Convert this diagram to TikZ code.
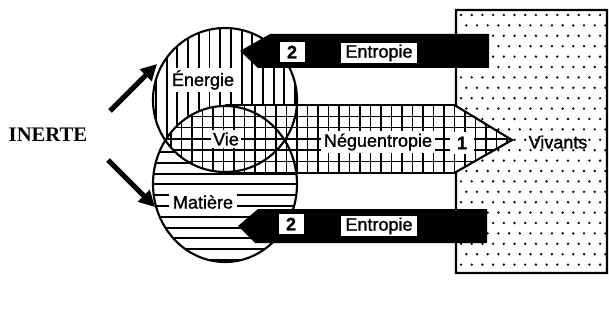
\documentclass[tikz,border=0pt]{standalone}
\usepackage{fontspec}
\setmainfont{Liberation Sans}
\newfontfamily\lab{Liberation Sans}[FakeBold=1.2]
\newfontfamily\titrefont{Liberation Serif}
\usetikzlibrary{arrows.meta}

\begin{document}
\begin{tikzpicture}[x=0.75pt,y=0.75pt,yscale=-1,xscale=1,
  hatch/.style={line width=1.4pt},
  grille/.style={line width=1.1pt},
  contour/.style={line width=1.6pt},
  lbl/.style={fill=white,inner sep=2pt,font=\lab\fontsize{13.5}{16}\selectfont},
  boite/.style={fill=white,inner xsep=3pt,inner ysep=0pt,minimum height=15pt,font=\lab\fontsize{13.5}{16}\selectfont},
  fleche/.style={line width=3.8pt,-{Triangle[length=12pt,width=12pt]}}]
\useasboundingbox (0,0) rectangle (609,324);

%Shape: Rectangle [Vivants]
\fill[white] (456,106) -- (456,10) -- (607,10) -- (607,273) -- (456,273) -- (456,172) -- (512,140) -- cycle;
\begin{scope}
\clip (456,106) -- (456,10) -- (607,10) -- (607,273) -- (456,273) -- (456,172) -- (512,140) -- cycle;
\foreach \j [evaluate=\j as \yy using 15+\j*10.4, evaluate=\j as \dd using {mod(\j,2)*5.3}] in {0,...,25}
  \foreach \i in {0,...,14}
    \fill (461+\dd+\i*10.7,\yy) circle [radius=1.3];
\end{scope}

%Shape: Circle [Energie]
\fill[white] (225,100) circle [radius=72];
\begin{scope}
\clip (225,100) circle [radius=72];
\foreach \k in {0,...,14} \draw[hatch] (156+\k*10.7,20) -- (156+\k*10.7,180);
\end{scope}

%Shape: Ellipse [Matiere]
\fill[white] (225,184) ellipse [x radius=72,y radius=78];
\begin{scope}
\clip (225,184) ellipse [x radius=72,y radius=78];
\foreach \k in {0,...,15} \draw[hatch] (145,152+\k*10.8) -- (305,152+\k*10.8);
\end{scope}

%Shape: Lens [Vie]
\begin{scope}
\clip (225,100) circle [radius=72];
\clip (225,184) ellipse [x radius=72,y radius=78];
\fill[white] (140,90) rectangle (310,190);
\foreach \k in {0,...,15} \draw[grille] (150+\k*10.5,95) -- (150+\k*10.5,185);
\foreach \k in {0,...,7} \draw[grille] (145,105+\k*11.3) -- (310,105+\k*11.3);
\end{scope}

%Shape: Arrow [Neguentropie]
\begin{scope}
\clip (225,105) -- (456,105) -- (512,140) -- (456,173) -- (225,173) -- cycle;
\fill[white] (220,100) rectangle (520,180);
\foreach \k in {0,...,35} \draw[grille] (150+\k*10.5,95) -- (150+\k*10.5,185);
\foreach \k in {0,...,6} \draw[grille] (220,105+\k*11.3) -- (520,105+\k*11.3);
\end{scope}

%Outlines
\draw[contour] (225,100) circle [radius=72];
\draw[contour] (225,184) ellipse [x radius=72,y radius=78];
\draw[contour] (225,105) -- (456,105);
\draw[contour] (225,173) -- (456,173);
\draw[contour] (456,106) -- (456,10) -- (607,10) -- (607,273) -- (456,273) -- (456,172) -- (512,140) -- cycle;

%Shape: Arrows [Entropie]
\fill (489,34) -- (270,34) -- (240,51) -- (258,68) -- (489,68) -- cycle;
\fill (487,209) -- (258,209) -- (238,226) -- (255,243) -- (487,243) -- cycle;

% Text Node
\draw (203,80) node (ener) [lbl] {Énergie};
\draw (226,139) node (vie) [lbl,inner sep=1.5pt] {Vie};
\draw (203,202) node (mat) [lbl,inner xsep=3pt] {Matière};
\draw (378,142) node (negu) [lbl,inner xsep=2.5pt] {Néguentropie};
\draw (462,143) node (un) [boite,minimum width=18pt,minimum height=16pt] {\bfseries 1};
\draw (558,142) node (viv) [font=\lab\fontsize{13.5}{16}\selectfont] {Vivants};
\draw (292,52) node (deux1) [boite,minimum width=18.75pt] {\bfseries 2};
\draw (379,53) node (ent1) [boite] {Entropie};
\draw (291,224) node (deux2) [boite,minimum width=18.75pt] {\bfseries 2};
\draw (379,226) node (ent2) [boite] {Entropie};
\draw (48,135) node (inerte) [font=\titrefont\bfseries\fontsize{15.5}{18}\selectfont] {INERTE};

%Straight Lines [INERTE]
\coordinate (dE) at (110,111);
\coordinate (fE) at (157,64);
\coordinate (dM) at (108,160);
\coordinate (fM) at (155,207);
\draw[fleche] (dE) -- (fE);
\draw[fleche] (dM) -- (fM);

\end{tikzpicture}
\end{document}
